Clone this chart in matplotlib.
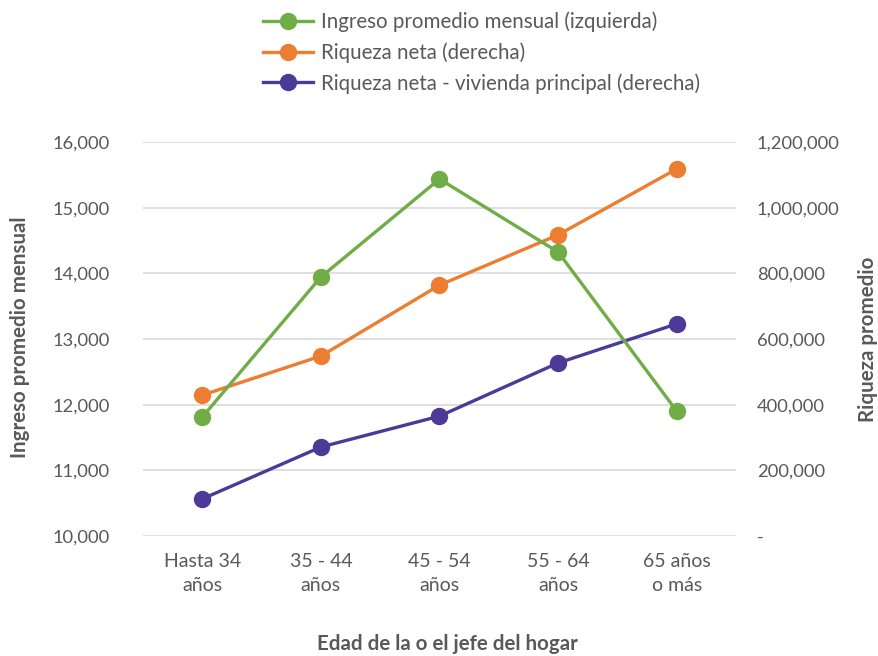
import matplotlib
matplotlib.use("Agg")
import matplotlib.pyplot as plt
from matplotlib.ticker import FuncFormatter

categories = ["Hasta 34\naños", "35 - 44\naños", "45 - 54\naños", "55 - 64\naños", "65 años\no más"]
ingreso = [11812, 13944, 15436, 14325, 11903]
riqueza_neta = [429000, 548000, 764000, 917000, 1118000]
riqueza_sin_viv = [113000, 271000, 365000, 527000, 646000]

labels = ["Ingreso promedio mensual (izquierda)", "Riqueza neta (derecha)",
          "Riqueza neta - vivienda principal (derecha)"]
colors = ["#70AD47", "#ED7D31", "#4B3A97"]
txt = "#595959"

plt.rcParams['font.family'] = ['Lato', 'DejaVu Sans']

W, H = 879, 656
fig = plt.figure(figsize=(W/100, H/100), dpi=100)
ax = fig.add_axes([143/W, 1-536/H, (736-143)/W, (536-142)/H])
ax2 = ax.twinx()

x = list(range(len(categories)))
ms = 11.5
lw = 2.4
l2, = ax2.plot(x, riqueza_neta, color=colors[1], lw=lw, marker='o', ms=ms, label=labels[1], zorder=3)
l3, = ax2.plot(x, riqueza_sin_viv, color=colors[2], lw=lw, marker='o', ms=ms, label=labels[2], zorder=3)
l1, = ax.plot(x, ingreso, color=colors[0], lw=lw, marker='o', ms=ms, label=labels[0], zorder=3)

ax.set_zorder(ax2.get_zorder() + 1)
ax.patch.set_visible(False)

ax.set_xlim(-0.5, 4.5)
ax.set_ylim(10000, 16000)
ax2.set_ylim(0, 1200000)
ax.set_yticks(range(10000, 16001, 1000))
ax2.set_yticks(range(0, 1200001, 200000))
ax.yaxis.set_major_formatter(FuncFormatter(lambda v, p: f"{int(v):,}"))
ax2.yaxis.set_major_formatter(FuncFormatter(lambda v, p: "-" if v == 0 else f"{int(v):,}"))
ax.set_xticks(x)
ax.set_xticklabels(categories, linespacing=1.55)

ax2.grid(axis='y', color="#D9D9D9", lw=1.2, zorder=0)
for a in (ax, ax2):
    for s in a.spines.values():
        s.set_visible(False)
    a.tick_params(length=0, labelsize=13.2, labelcolor=txt)
ax.tick_params(axis='x', labelsize=14, pad=12)
ax.tick_params(axis='y', pad=24)
ax2.tick_params(axis='y', pad=15)

fig.text(20/W, 1-337/H, "Ingreso promedio mensual", rotation=90, ha='center', va='center',
         fontsize=14.8, fontweight='bold', color=txt)
fig.text(868/W, 1-339/H, "Riqueza promedio", rotation=90, ha='center', va='center',
         fontsize=14.8, fontweight='bold', color=txt)
fig.text(447/W, 1-644/H, "Edad de la o el jefe del hogar", ha='center', va='center',
         fontsize=14.8, fontweight='bold', color=txt)

fig.legend(handles=[l1, l2, l3], loc='upper left', bbox_to_anchor=(252/W, 1.0),
           frameon=False, fontsize=14.8, labelcolor=txt, handlelength=2.4,
           labelspacing=0.5, handletextpad=0.4, borderaxespad=0.15)

fig.savefig("out.png", dpi=100, facecolor='white')
